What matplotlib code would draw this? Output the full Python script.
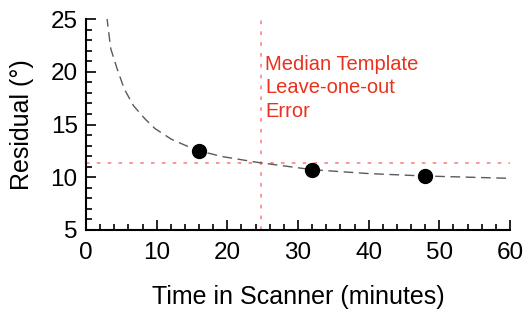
import numpy as np
import matplotlib
matplotlib.use('Agg')
import matplotlib.pyplot as plt
from matplotlib.ticker import MultipleLocator

plt.rcParams['font.family'] = ['Liberation Sans', 'DejaVu Sans']

# measured residuals
scan_time = [16, 32, 48]
residual = [12.5, 10.7, 10.1]

# fitted curve
fit_x = [2.95, 3.5, 4.4, 5.4, 6.7, 8.4, 9.8, 12.1, 13.8, 16, 19.4, 24.4, 26, 32, 40, 48, 60]
fit_y = [25.2, 22.2, 20.3, 18.4, 16.8, 15.5, 14.6, 13.6, 13.1, 12.5, 11.95, 11.4, 11.26, 10.72, 10.35, 10.12, 9.9]

median_err = 11.4
median_time = 24.7

C_RED = '#e8321e'; C_PINK = '#ff8c8c'

fig = plt.figure(figsize=(5.26, 3.11), dpi=100)
ax = fig.add_axes([0.1635, 0.2605, 0.806, 0.678])

ax.plot(fit_x, fit_y, color='#5a5a5a', lw=1.0, dashes=(7, 4), zorder=2)
ax.axhline(median_err, color=C_PINK, lw=1.3, dashes=(2, 4), zorder=1)
ax.axvline(median_time, color=C_PINK, lw=1.3, dashes=(2, 4), zorder=1)
ax.plot(scan_time, residual, 'o', color='black', ms=10, zorder=3, clip_on=False)

ax.text(25.4, 21.6, 'Median Template\nLeave-one-out\nError', color=C_RED,
        fontsize=14.5, va='top', ha='left', linespacing=1.3)

ax.set_xlim(0, 60); ax.set_ylim(5, 25)
ax.xaxis.set_major_locator(MultipleLocator(10)); ax.xaxis.set_minor_locator(MultipleLocator(2))
ax.yaxis.set_major_locator(MultipleLocator(5)); ax.yaxis.set_minor_locator(MultipleLocator(1))
ax.tick_params(which='both', direction='in', labelsize=17.5, width=1.2)
ax.tick_params(axis='x', pad=9)
ax.tick_params(axis='y', pad=6)
ax.tick_params(which='major', length=7)
ax.tick_params(which='minor', length=4)
for s in ['top', 'right']: ax.spines[s].set_visible(False)
for s in ['left', 'bottom']: ax.spines[s].set_linewidth(1.5)

ax.set_xlabel('Time in Scanner (minutes)', fontsize=18, labelpad=15)
ax.set_ylabel('Residual (°)', fontsize=18, labelpad=12)

fig.savefig('out.png', dpi=100, facecolor='white')
